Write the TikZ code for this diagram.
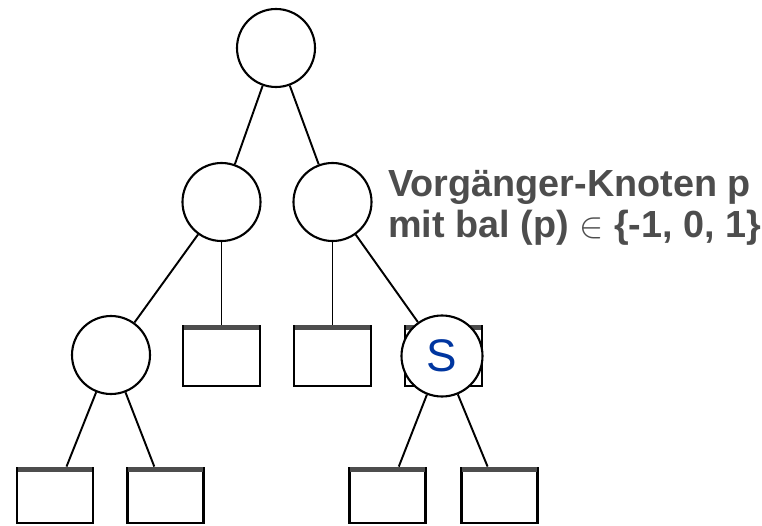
\documentclass[tikz,border=0pt]{standalone}
\usepackage{fontspec}
\setmainfont{Liberation Sans}
\definecolor{grigio}{HTML}{4D4D4D}
\definecolor{blu}{HTML}{0036A0}
\begin{document}
\begin{tikzpicture}[
        nodo/.style={circle, draw, line width=1.2pt, fill=white,
            minimum size=1.56cm, inner sep=0pt},
        foglia/.style={rectangle, draw, line width=1.6pt,
            minimum width=1.54cm, minimum height=1.2cm, inner sep=0pt},
        fogliabassa/.style={foglia, minimum width=1.52cm, minimum height=1.1cm},
        ramo/.style={line width=1.1pt},
        barra/.style={draw=grigio, line width=2.6pt},
    ]
        % --- macro riutilizzabili -----------------------------------------
        \def\testo{\fontsize{21.5}{25}\selectfont\bfseries\color{grigio}}
        \useasboundingbox (0,0) rectangle (15.24,10.50);
        % --- foglie (rettangoli) ------------------------------------------
        \node[foglia] (q1) at (4.43,3.38) {};
        \node[foglia] (q2) at (6.65,3.38) {};
        \node[foglia] (q3) at (8.87,3.38) {};
        \node[fogliabassa] (q4) at (1.10,0.59) {};
        \node[fogliabassa] (q5) at (3.31,0.59) {};
        \node[fogliabassa] (q6) at (7.75,0.59) {};
        \node[fogliabassa] (q7) at (9.99,0.59) {};
        \foreach \q in {q1,q2,q3,q4,q5,q6,q7}
            \draw[barra] ([shift={(1.2pt,-1.6pt)}]\q.north west)
                -- ([shift={(-1.2pt,-1.6pt)}]\q.north east);
        % --- nodi interni -------------------------------------------------
        \node[nodo] (radice) at (5.52,9.54) {};
        \node[nodo] (ksx) at (4.43,6.46) {};
        \node[nodo] (kdx) at (6.65,6.46) {};
        \node[nodo] (k3) at (2.22,3.40) {};
        \node[nodo, minimum size=1.62cm, font=\fontsize{26}{30}\selectfont, text=blu]
            (s) at (8.84,3.38) {S};
        % --- rami ---------------------------------------------------------
        \draw[ramo] (radice) -- (ksx);
        \draw[ramo] (radice) -- (kdx);
        \draw[ramo] (ksx) -- (k3);
        \draw[ramo] (ksx) -- (q1);
        \draw[ramo] (kdx) -- (q2);
        \draw[ramo] (kdx) -- (s);
        \draw[ramo] (k3) -- (q4);
        \draw[ramo] (k3) -- (q5);
        \draw[ramo] (s) -- (q6);
        \draw[ramo] (s) -- (q7);
        % --- etichette ----------------------------------------------------
        \node[anchor=base west, inner sep=0pt, font=\testo] (riga1) at (7.76,6.56)
            {Vorgänger-Knoten p};
        \node[anchor=base west, inner sep=0pt, font=\testo] (riga2) at (7.76,5.74)
            {mit bal (p) $\in$ \{-1, 0, 1\}};
    \end{tikzpicture}
\end{document}
